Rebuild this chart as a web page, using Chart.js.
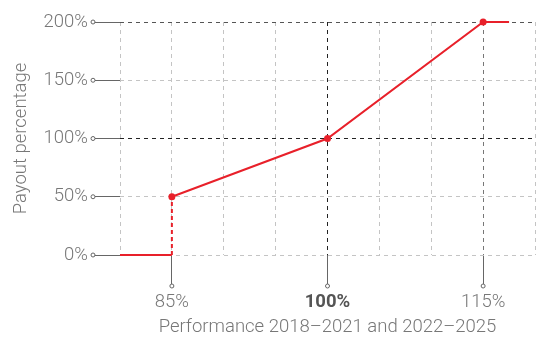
<!DOCTYPE html>
<html>
<head>
<meta charset="utf-8">
<script src="https://cdn.jsdelivr.net/npm/chart.js@4.4.1/dist/chart.umd.min.js"></script>
<style>
  html, body { margin: 0; padding: 0; background: #fff; }
  #wrap { width: 540px; height: 338px; }
</style>
</head>
<body>
<div id="wrap"><canvas id="payout"></canvas></div>
<script>
// payout curve: performance (%) -> payout (%)
var perf   = [80, 85, 85, 100, 115, 117.5];
var payout = [0, 0, 50, 100, 200, 200];
var dotted = [false, false, true, true, true, false];   // which points get a dot
var xLabels = [85, 100, 115];                             // labelled x ticks
var yTicks  = [0, 50, 100, 150, 200];

var red = '#e8202a';
var txt = '#777';
var fam = 'Roboto';
var fs = 18.5;

function xGridColor(v){
  if (v === 100) return '#222';
  if (v === 115) return '#777';
  return '#c4c4c4';
}
function yGridColor(v){
  if (v === 100) return '#222';
  if (v === 200) return '#555';
  return '#c4c4c4';
}

// small open circles at the end of the tick marks
var tickDots = {
  id: 'tickDots',
  afterDraw: function(chart){
    var c = chart.ctx, xs = chart.scales.x, ys = chart.scales.y;
    c.save();
    c.lineWidth = 1;
    c.strokeStyle = '#666';
    c.fillStyle = '#fff';
    yTicks.forEach(function(v){
      var y = ys.getPixelForValue(v);
      c.beginPath(); c.arc(ys.right - 27, y, 2, 0, Math.PI*2); c.fill(); c.stroke();
    });
    xLabels.forEach(function(v){
      var x = xs.getPixelForValue(v);
      c.beginPath(); c.arc(x, xs.top + 31, 2, 0, Math.PI*2); c.fill(); c.stroke();
    });
    c.restore();
  }
};

var pts = perf.map(function(p, i){ return {x: p, y: payout[i]}; });

new Chart(document.getElementById('payout'), {
  type: 'line',
  data: {
    datasets: [{
      data: pts,
      borderColor: red,
      backgroundColor: red,
      borderWidth: 2,
      clip: false,
      pointRadius: function(ctx){ return dotted[ctx.dataIndex] ? 3.5 : 0; },
      pointBorderWidth: 0,
      tension: 0,
      segment: {
        borderDash: function(ctx){ return ctx.p0DataIndex === 1 ? [4, 3] : undefined; }
      }
    }]
  },
  options: {
    responsive: true,
    maintainAspectRatio: false,
    animation: false,
    layout: { padding: { top: 22, right: 2, left: 0, bottom: 0 } },
    plugins: { legend: { display: false }, tooltip: { enabled: false } },
    scales: {
      x: {
        type: 'linear',
        min: 80, max: 120,
        afterFit: function(s){ s.height = 83; },
        afterBuildTicks: function(s){
          var t = [];
          for (var v = 80; v <= 120; v += 5) t.push({value: v});
          s.ticks = t;
        },
        border: {
          display: false,
          dash: [4, 4]
        },
        grid: {
          color: function(ctx){ return xGridColor(ctx.tick.value); },
          lineWidth: 1,
          drawTicks: true,
          tickLength: 31,
          tickColor: function(ctx){ return xLabels.indexOf(ctx.tick.value) >= 0 ? '#666' : 'rgba(0,0,0,0)'; },
          tickBorderDash: []
        },
        ticks: {
          padding: 5,
          maxRotation: 0,
          autoSkip: false,
          color: function(ctx){ return ctx.tick.value === 100 ? '#555' : txt; },
          font: function(ctx){
            var bold = ctx.tick && ctx.tick.value === 100;
            return { family: fam, size: fs, weight: bold ? 'bold' : '300' };
          },
          callback: function(v){ return xLabels.indexOf(v) >= 0 ? v + '%' : ''; }
        },
        title: {
          display: true,
          text: 'Performance 2018\u20132021 and 2022\u20132025',
          color: txt,
          font: { family: fam, size: fs, weight: '300' },
          padding: { top: 0, bottom: 0 }
        }
      },
      y: {
        min: 0, max: 200,
        afterFit: function(s){ s.width = 120; },
        afterBuildTicks: function(s){
          s.ticks = yTicks.map(function(v){ return {value: v}; });
        },
        border: {
          display: false,
          dash: [4, 4]
        },
        grid: {
          color: function(ctx){ return yGridColor(ctx.tick.value); },
          lineWidth: 1,
          drawTicks: true,
          tickLength: 27,
          tickColor: '#666',
          tickBorderDash: []
        },
        ticks: {
          padding: 5,
          color: txt,
          font: { family: fam, size: fs, weight: '300' },
          callback: function(v){ return v + '%'; }
        },
        title: {
          display: true,
          text: 'Payout percentage',
          color: txt,
          font: { family: fam, size: fs, weight: '300' },
          padding: { top: 10, bottom: 0 }
        }
      }
    }
  },
  plugins: [tickDots]
});
</script>
</body>
</html>
